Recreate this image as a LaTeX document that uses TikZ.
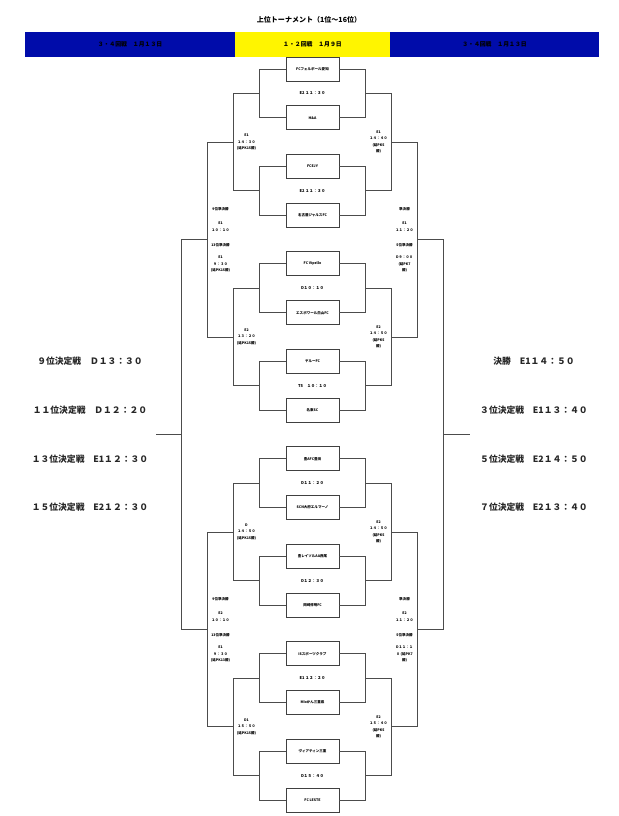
\documentclass[tikz,border=0pt]{standalone}
\usepackage{fontspec}
\setmainfont{Noto Sans CJK JP}
\definecolor{hdblue}{RGB}{0,12,170}
\definecolor{hdyellow}{RGB}{255,245,0}
\tikzset{
  team/.style={draw=black!75, line width=0.8pt, fill=white, minimum width=1.59cm, minimum height=0.72cm, inner sep=0pt, font=\fontsize{3}{3.6}\selectfont\bfseries},
  bline/.style={black!70, line width=0.8pt},
  game/.style={inner sep=0pt, font=\fontsize{3.4}{4}\selectfont\bfseries},
  sched/.style={align=center, inner sep=0pt, font=\fontsize{3}{5.6}\selectfont\bfseries},
  side/.style={text=black!85, font=\fontsize{7.5}{9}\selectfont\bfseries},
  head/.style={font=\fontsize{5}{6}\selectfont\bfseries}
}
\begin{document}
\begin{tikzpicture}[x=0.03cm,y=-0.03cm]
\useasboundingbox (0,0) rectangle (618,816);
% title and header
\node[font=\fontsize{6}{7}\selectfont\bfseries] (title) at (309,20) {上位トーナメント（1位～16位）};
\fill[hdblue] (25,32) rectangle (235,57);
\fill[hdyellow] (235,32) rectangle (390,57);
\fill[hdblue] (390,32) rectangle (599,57);
\node[head,text=black] (hl) at (130,44.5) {３・４回戦　１月１３日};
\node[head] (hm) at (312.5,44.5) {１・２回戦　１月９日};
\node[head,text=black] (hr) at (494.5,44.5) {３・４回戦　１月１３日};
% columns of the bracket
\coordinate (L1) at (259.5,0); \coordinate (L2) at (233.5,0); \coordinate (L3) at (207.5,0);
\coordinate (L4) at (181.5,0); \coordinate (L5) at (155.5,0);
\coordinate (R1) at (365.5,0); \coordinate (R2) at (391.5,0); \coordinate (R3) at (417.5,0);
\coordinate (R4) at (443.5,0); \coordinate (R5) at (469.5,0);
% teams
\node[team] (t1) at (312.5,69) {FCフェルボール愛知};
\node[team] (t2) at (312.5,117.7) {H\&A};
\node[team] (t3) at (312.5,166.5) {FCEJY};
\node[team] (t4) at (312.5,215.2) {名古屋ジャルスFC};
\node[team] (t5) at (312.5,263.9) {FC Vipello};
\node[team] (t6) at (312.5,312.7) {エスポワール白山FC};
\node[team] (t7) at (312.5,361.4) {ヤルーFC};
\node[team] (t8) at (312.5,410.1) {名東SC};
\node[team] (t9) at (312.5,458.8) {豊AFC豊田};
\node[team] (t10) at (312.5,507.6) {SCN大府エルマーノ};
\node[team] (t11) at (312.5,556.3) {豊レイソルAA西尾};
\node[team] (t12) at (312.5,605) {岡崎修明FC};
\node[team] (t13) at (312.5,653.8) {ISスポーツクラブ};
\node[team] (t14) at (312.5,702.5) {MIxかん三重県};
\node[team] (t15) at (312.5,751.2) {ヴィアティン三重};
\node[team] (t16) at (312.5,800) {FC LESTE};
% first round games
\node[game] (p1) at (312.5,93.4) {E2 １１：３０};
\node[game] (p2) at (312.5,190.9) {E2 １１：３０};
\node[game] (p3) at (312.5,288.3) {D１０：１０};
\node[game] (p4) at (312.5,385.8) {T5　１０：１０};
\node[game] (p5) at (312.5,483.2) {D１１：２０};
\node[game] (p6) at (312.5,580.7) {D１２：３０};
\node[game] (p7) at (312.5,678.2) {E1 １２：２０};
\node[game] (p8) at (312.5,775.6) {D１５：４０};
\coordinate (q1) at (312.5,142.1); \coordinate (q2) at (312.5,337);
\coordinate (q3) at (312.5,532); \coordinate (q4) at (312.5,726.9);
\coordinate (r1) at (312.5,239.6); \coordinate (r2) at (312.5,629.4);
\coordinate (f) at (312.5,434.5);
% bracket lines
\draw[bline] (t1.west) -| (L1 |- t2) -- (t2.west) (t1.east) -| (R1 |- t2) -- (t2.east);
\draw[bline] (t3.west) -| (L1 |- t4) -- (t4.west) (t3.east) -| (R1 |- t4) -- (t4.east);
\draw[bline] (t5.west) -| (L1 |- t6) -- (t6.west) (t5.east) -| (R1 |- t6) -- (t6.east);
\draw[bline] (t7.west) -| (L1 |- t8) -- (t8.west) (t7.east) -| (R1 |- t8) -- (t8.east);
\draw[bline] (t9.west) -| (L1 |- t10) -- (t10.west) (t9.east) -| (R1 |- t10) -- (t10.east);
\draw[bline] (t11.west) -| (L1 |- t12) -- (t12.west) (t11.east) -| (R1 |- t12) -- (t12.east);
\draw[bline] (t13.west) -| (L1 |- t14) -- (t14.west) (t13.east) -| (R1 |- t14) -- (t14.east);
\draw[bline] (t15.west) -| (L1 |- t16) -- (t16.west) (t15.east) -| (R1 |- t16) -- (t16.east);
\draw[bline] (L1 |- p1) -| (L2 |- p2) -- (L1 |- p2) (R1 |- p1) -| (R2 |- p2) -- (R1 |- p2);
\draw[bline] (L1 |- p3) -| (L2 |- p4) -- (L1 |- p4) (R1 |- p3) -| (R2 |- p4) -- (R1 |- p4);
\draw[bline] (L1 |- p5) -| (L2 |- p6) -- (L1 |- p6) (R1 |- p5) -| (R2 |- p6) -- (R1 |- p6);
\draw[bline] (L1 |- p7) -| (L2 |- p8) -- (L1 |- p8) (R1 |- p7) -| (R2 |- p8) -- (R1 |- p8);
\draw[bline] (L2 |- q1) -| (L3 |- q2) -- (L2 |- q2) (R2 |- q1) -| (R3 |- q2) -- (R2 |- q2);
\draw[bline] (L2 |- q3) -| (L3 |- q4) -- (L2 |- q4) (R2 |- q3) -| (R3 |- q4) -- (R2 |- q4);
\draw[bline] (L3 |- r1) -| (L4 |- r2) -- (L3 |- r2) (R3 |- r1) -| (R4 |- r2) -- (R3 |- r2);
\draw[bline] (L4 |- f) -- (L5 |- f) (R4 |- f) -- (R5 |- f);
% second round games
\node[sched] (a1) at (246.5,142.1) {E1\\１４：３０\\(延PK15勝)};
\node[sched] (a2) at (246.5,337) {E2\\１３：２０\\(延PK15勝)};
\node[sched] (a3) at (246.5,532) {D\\１４：５０\\(延PK15勝)};
\node[sched] (a4) at (246.5,726.9) {D1\\１５：５０\\(延PK15勝)};
\node[sched] (b1) at (378.5,142.1) {E1\\１４：４０\\(延PK5\\勝)};
\node[sched] (b2) at (378.5,337) {E2\\１４：５０\\(延PK5\\勝)};
\node[sched] (b3) at (378.5,532) {E2\\１４：５０\\(延PK5\\勝)};
\node[sched] (b4) at (378.5,726.9) {E2\\１５：４０\\(延PK5\\勝)};
% semi finals
\node[sched] (c1) at (220.5,219.5) {9位準決勝\\[6pt]E1\\１０：１０};
\node[sched] (c2) at (220.5,257.8) {13位準決勝\\[5pt]E1\\９：３０\\(延PK15勝)};
\node[sched] (c3) at (220.5,609.5) {9位準決勝\\[6pt]E2\\１０：１０};
\node[sched] (c4) at (220.5,647.8) {13位準決勝\\[5pt]E1\\９：３０\\(延PK13勝)};
\node[sched] (d1) at (404.5,219.5) {準決勝\\[6pt]E1\\１１：２０};
\node[sched] (d2) at (404.5,257.8) {5位準決勝\\[5pt]D９：００\\(延PK7\\勝)};
\node[sched] (d3) at (404.5,609.5) {準決勝\\[6pt]E2\\１１：２０};
\node[sched] (d4) at (404.5,647.8) {5位準決勝\\[5pt]D１１：１\\０ (延PK7\\勝)};
% placement games
\node[side] (s9) at (90,361.4) {９位決定戦　Ｄ１３：３０};
\node[side] (s11) at (90,410.1) {１１位決定戦　Ｄ１２：２０};
\node[side] (s13) at (90,458.8) {１３位決定戦　E1１２：３０};
\node[side] (s15) at (90,507.6) {１５位決定戦　E2１２：３０};
\node[side] (s1) at (534,361.4) {決勝　E1１４：５０};
\node[side] (s3) at (534,410.1) {３位決定戦　E1１３：４０};
\node[side] (s5) at (534,458.8) {５位決定戦　E2１４：５０};
\node[side] (s7) at (534,507.6) {７位決定戦　E2１３：４０};
\end{tikzpicture}
\end{document}
